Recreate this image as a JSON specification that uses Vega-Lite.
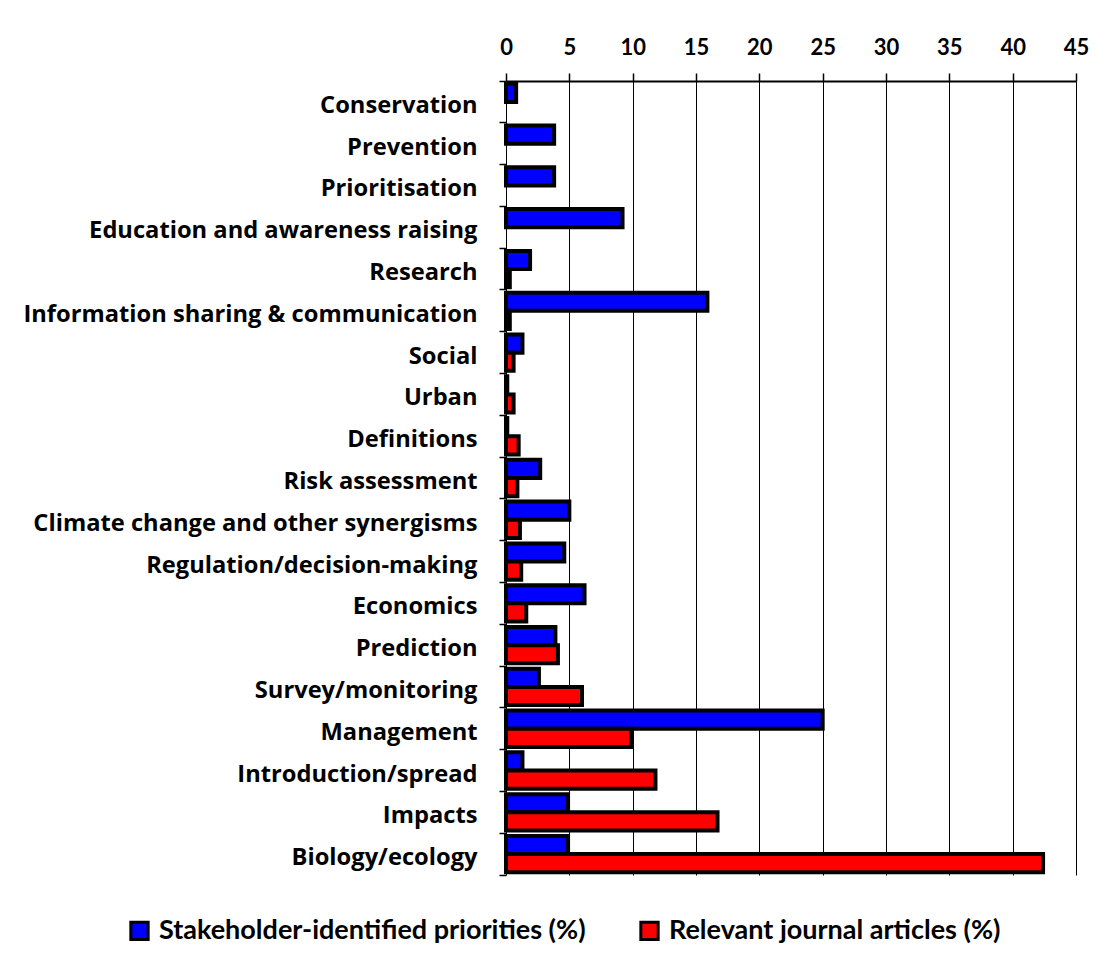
{
  "$schema": "https://vega.github.io/schema/vega-lite/v6.json",
  "width": 570,
  "height": 794,
  "padding": {"left": 22, "top": 36, "right": 26, "bottom": 10},
  "background": "#FFFFFF",
  "config": {
    "font": "Lato",
    "view": {"stroke": null}
  },
  "data": {
    "values": [
      {"topic": "Conservation", "series": "Stakeholder-identified priorities (%)", "value": 0.8},
      {"topic": "Prevention", "series": "Stakeholder-identified priorities (%)", "value": 3.8},
      {"topic": "Prioritisation", "series": "Stakeholder-identified priorities (%)", "value": 3.8},
      {"topic": "Education and awareness raising", "series": "Stakeholder-identified priorities (%)", "value": 9.2},
      {"topic": "Research", "series": "Stakeholder-identified priorities (%)", "value": 1.9},
      {"topic": "Research", "series": "Relevant journal articles (%)", "value": 0.3},
      {"topic": "Information sharing & communication", "series": "Stakeholder-identified priorities (%)", "value": 15.9},
      {"topic": "Information sharing & communication", "series": "Relevant journal articles (%)", "value": 0.3},
      {"topic": "Social", "series": "Stakeholder-identified priorities (%)", "value": 1.3},
      {"topic": "Social", "series": "Relevant journal articles (%)", "value": 0.6},
      {"topic": "Urban", "series": "Stakeholder-identified priorities (%)", "value": 0.1},
      {"topic": "Urban", "series": "Relevant journal articles (%)", "value": 0.6},
      {"topic": "Definitions", "series": "Stakeholder-identified priorities (%)", "value": 0.1},
      {"topic": "Definitions", "series": "Relevant journal articles (%)", "value": 1.0},
      {"topic": "Risk assessment", "series": "Stakeholder-identified priorities (%)", "value": 2.7},
      {"topic": "Risk assessment", "series": "Relevant journal articles (%)", "value": 0.9},
      {"topic": "Climate change and other synergisms", "series": "Stakeholder-identified priorities (%)", "value": 5.0},
      {"topic": "Climate change and other synergisms", "series": "Relevant journal articles (%)", "value": 1.1},
      {"topic": "Regulation/decision-making", "series": "Stakeholder-identified priorities (%)", "value": 4.6},
      {"topic": "Regulation/decision-making", "series": "Relevant journal articles (%)", "value": 1.2},
      {"topic": "Economics", "series": "Stakeholder-identified priorities (%)", "value": 6.2},
      {"topic": "Economics", "series": "Relevant journal articles (%)", "value": 1.6},
      {"topic": "Prediction", "series": "Stakeholder-identified priorities (%)", "value": 3.9},
      {"topic": "Prediction", "series": "Relevant journal articles (%)", "value": 4.1},
      {"topic": "Survey/monitoring", "series": "Stakeholder-identified priorities (%)", "value": 2.6},
      {"topic": "Survey/monitoring", "series": "Relevant journal articles (%)", "value": 6.0},
      {"topic": "Management", "series": "Stakeholder-identified priorities (%)", "value": 25.0},
      {"topic": "Management", "series": "Relevant journal articles (%)", "value": 9.9},
      {"topic": "Introduction/spread", "series": "Stakeholder-identified priorities (%)", "value": 1.3},
      {"topic": "Introduction/spread", "series": "Relevant journal articles (%)", "value": 11.8},
      {"topic": "Impacts", "series": "Stakeholder-identified priorities (%)", "value": 4.9},
      {"topic": "Impacts", "series": "Relevant journal articles (%)", "value": 16.7},
      {"topic": "Biology/ecology", "series": "Stakeholder-identified priorities (%)", "value": 4.9},
      {"topic": "Biology/ecology", "series": "Relevant journal articles (%)", "value": 42.4}
    ]
  },
  "mark": {"type": "bar", "stroke": "#000000", "strokeWidth": 4, "strokeJoin": "miter"},
  "encoding": {
    "y": {
      "field": "topic",
      "type": "nominal",
      "sort": null,
      "title": null,
      "scale": {"paddingInner": 0, "paddingOuter": 0},
      "axis": {
        "orient": "left",
        "bandPosition": 1,
        "tickExtra": true,
        "tickSize": 7,
        "tickColor": "#000000",
        "tickWidth": 1.5,
        "labelPadding": 22,
        "labelOffset": 4,
        "labelLimit": 800,
        "labelFont": "Open Sans",
        "labelFontSize": 23.7,
        "labelFontWeight": "bold",
        "labelColor": "#000000",
        "domain": false,
        "grid": false
      }
    },
    "yOffset": {
      "field": "series",
      "type": "nominal",
      "sort": ["Stakeholder-identified priorities (%)", "Relevant journal articles (%)"],
      "scale": {"paddingInner": 0, "paddingOuter": 0.15}
    },
    "x": {
      "field": "value",
      "type": "quantitative",
      "title": null,
      "scale": {"domain": [0, 45], "nice": false},
      "axis": {
        "orient": "top",
        "values": [0, 5, 10, 15, 20, 25, 30, 35, 40, 45],
        "tickSize": 8,
        "tickColor": "#000000",
        "tickWidth": 1.5,
        "labelPadding": 14,
        "labelFont": "Lato",
        "labelFontSize": 22,
        "labelFontWeight": "bold",
        "labelColor": "#000000",
        "labelFlush": false,
        "domainColor": "#000000",
        "domainWidth": 2,
        "grid": true,
        "gridColor": "#000000",
        "gridWidth": 1,
        "gridOpacity": 1
      }
    },
    "color": {
      "field": "series",
      "type": "nominal",
      "sort": ["Stakeholder-identified priorities (%)", "Relevant journal articles (%)"],
      "scale": {"range": ["#0000FF", "#FF0000"]},
      "legend": {
        "orient": "none",
        "legendX": -380,
        "legendY": 836,
        "direction": "horizontal",
        "title": null,
        "symbolType": "square",
        "symbolSize": 300,
        "symbolStrokeColor": "#000000",
        "symbolStrokeWidth": 3,
        "symbolOpacity": 1,
        "labelFont": "Lato",
        "labelFontSize": 27,
        "labelFontWeight": "bold",
        "labelColor": "#000000",
        "labelLimit": 800,
        "labelOffset": 6,
        "columnPadding": 48
      }
    }
  }
}
